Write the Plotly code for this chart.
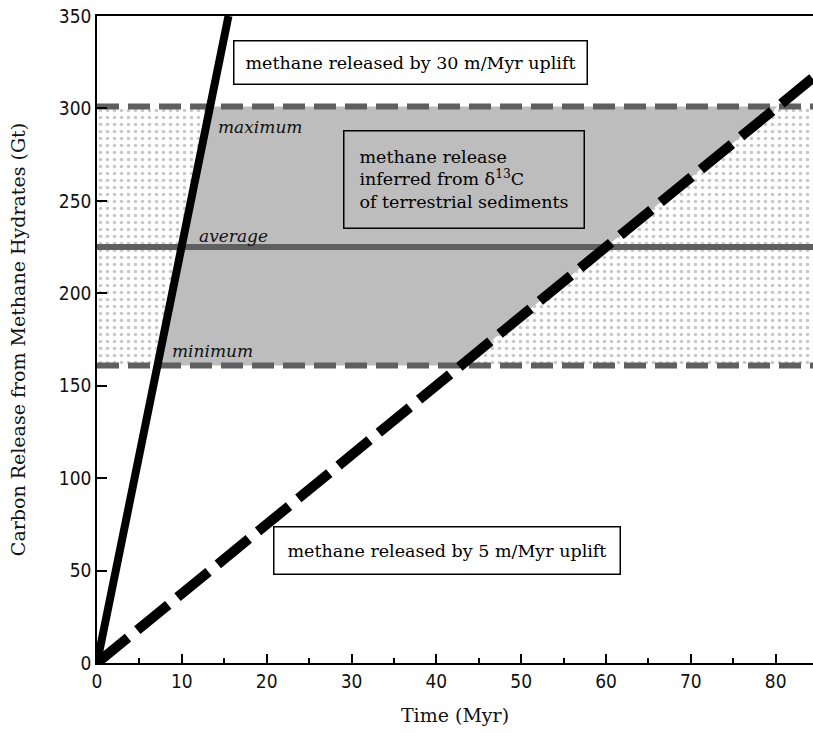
import plotly.graph_objects as go

# ---- data ----
fast_time = [0, 15.5]          # 30 m/Myr uplift (solid)
fast_release = [0, 350]
slow_time = [0, 84.5]          # 5 m/Myr uplift (dashed)
slow_release = [0, 317]
release_min = 161
release_avg = 225
release_max = 301
x_range_end = 84.4
x_ticks = [0, 10, 20, 30, 40, 50, 60, 70, 80]
y_ticks = [0, 50, 100, 150, 200, 250, 300, 350]

fast_slope = fast_release[1] / fast_time[1]
slow_slope = slow_release[1] / slow_time[1]

SERIF = "DejaVu Serif, Liberation Serif, serif"
TICKFONT = "Liberation Sans Narrow, DejaVu Sans Condensed, Liberation Sans, sans-serif"
GRAY_FILL = "#bdbdbd"
LINE_GRAY = "#5f5f5f"

fig = go.Figure()

# dotted band between min and max
fig.add_trace(go.Scatter(
    x=[0, x_range_end, x_range_end, 0, 0],
    y=[release_min, release_min, release_max, release_max, release_min],
    mode="lines", line=dict(width=0), fill="toself",
    fillcolor="white",
    fillpattern=dict(shape=".", bgcolor="white", fgcolor="#8f8f8f",
                     size=7, solidity=0.2),
    hoverinfo="skip", showlegend=False))

# gray region between the two release curves inside the band
poly_y = [release_min, release_max, release_max, release_min, release_min]
poly_x = [release_min / fast_slope, release_max / fast_slope,
          release_max / slow_slope, release_min / slow_slope,
          release_min / fast_slope]
fig.add_trace(go.Scatter(
    x=poly_x, y=poly_y, mode="lines", line=dict(width=0),
    fill="toself", fillcolor=GRAY_FILL, hoverinfo="skip", showlegend=False))

# horizontal bounds
for val, dash in [(release_max, "22px,9px"), (release_min, "22px,9px"),
                  (release_avg, "solid")]:
    fig.add_trace(go.Scatter(
        x=[0, x_range_end], y=[val, val], mode="lines",
        line=dict(color=LINE_GRAY, width=6, dash=dash),
        hoverinfo="skip", showlegend=False))

# release curves
fig.add_trace(go.Scatter(
    x=slow_time, y=slow_release, mode="lines",
    line=dict(color="black", width=10, dash="40px,12px"),
    hoverinfo="skip", showlegend=False))
fig.add_trace(go.Scatter(
    x=fast_time, y=fast_release, mode="lines",
    line=dict(color="black", width=8),
    hoverinfo="skip", showlegend=False))

annotations = [
    dict(x=36.9, y=325, text="methane released by 30 m/Myr uplift",
         font=dict(family=SERIF, size=17.5, color="black"),
         bgcolor="white", bordercolor="black", borderwidth=1.5,
         borderpad=11, showarrow=False),
    dict(x=41.2, y=61, text="methane released by 5 m/Myr uplift",
         font=dict(family=SERIF, size=17.5, color="black"),
         bgcolor="white", bordercolor="black", borderwidth=1.5,
         borderpad=13, showarrow=False),
    dict(x=29.0, y=261.5, xanchor="left",
         text="methane release<br>inferred from δ<sup>13</sup>C<br>of terrestrial sediments",
         align="left",
         font=dict(family=SERIF, size=17.5, color="black"),
         bgcolor=GRAY_FILL, bordercolor="black", borderwidth=1.5,
         borderpad=15, showarrow=False),
    dict(x=14.0, y=290, xanchor="left", text="<i>maximum</i>",
         font=dict(family=SERIF, size=17, color="#111"), showarrow=False),
    dict(x=11.8, y=231, xanchor="left", text="<i>average</i>",
         font=dict(family=SERIF, size=17, color="#111"), showarrow=False),
    dict(x=8.6, y=169, xanchor="left", text="<i>minimum</i>",
         font=dict(family=SERIF, size=17, color="#111"), showarrow=False),
]

fig.update_layout(
    width=813, height=733,
    margin=dict(l=97, r=0, t=16, b=70),
    paper_bgcolor="white", plot_bgcolor="white",
    annotations=annotations,
    showlegend=False,
)
fig.update_xaxes(
    range=[0, x_range_end], tickvals=x_ticks, automargin=False,
    ticks="inside", ticklen=9, tickwidth=1.5, tickcolor="black",
    minor=dict(dtick=5, ticks="inside", ticklen=5, tickwidth=1.5, tickcolor="black"),
    showline=True, linecolor="black", linewidth=1.5, mirror=True,
    showgrid=False, zeroline=False,
    tickfont=dict(family=TICKFONT, size=19, color="#111"),
    title=dict(text="Time (Myr)", font=dict(family=SERIF, size=19, color="#111"),
               standoff=18),
)
fig.update_yaxes(
    range=[0, 350], tickvals=y_ticks, automargin=False,
    ticks="inside", ticklen=10, tickwidth=1.5, tickcolor="black",
    showline=True, linecolor="black", linewidth=1.5,
    showgrid=False, zeroline=False,
    tickfont=dict(family=TICKFONT, size=19, color="#111"),
    title=dict(text="Carbon Release from Methane Hydrates (Gt)",
               font=dict(family=SERIF, size=19, color="#111"), standoff=28),
)

fig.write_html("out.html",
               config={"displayModeBar": False},
               post_script="document.body.style.margin='0';document.body.style.overflow='hidden';")
